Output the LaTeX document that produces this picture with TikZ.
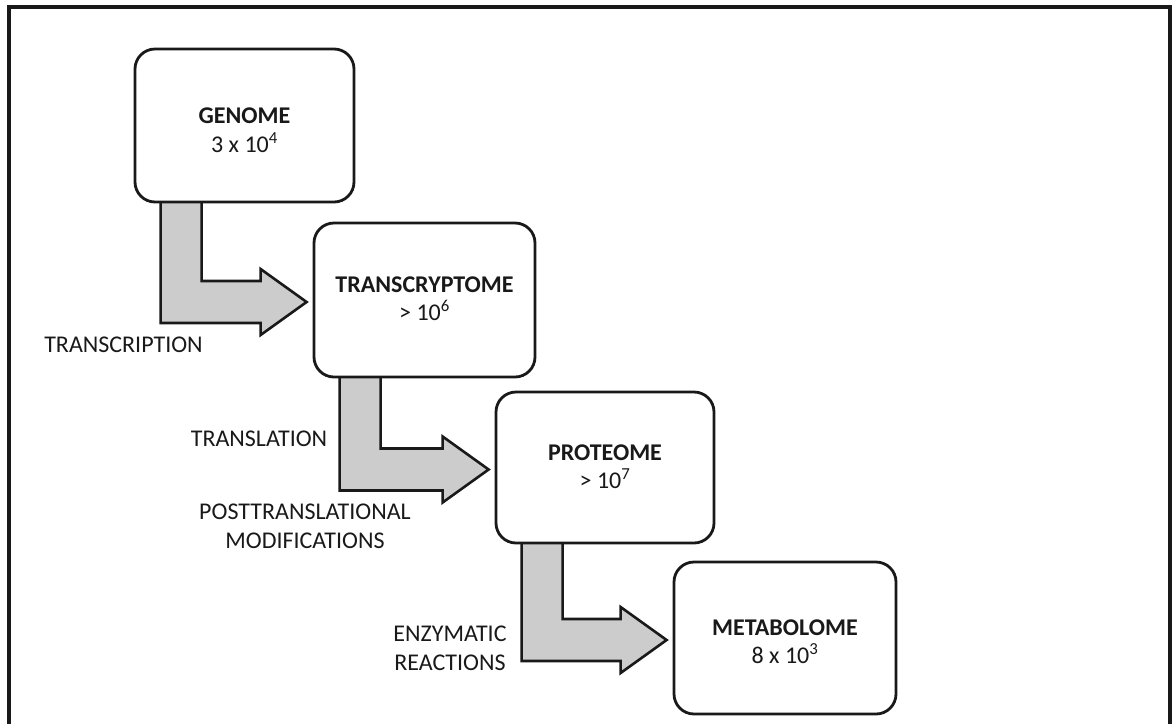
\documentclass[tikz,border=0pt]{standalone}
\usepackage{fontspec}
\setmainfont{Carlito}
\usetikzlibrary{calc,backgrounds}
\definecolor{shaftgray}{RGB}{204,204,204}
\definecolor{inkgray}{RGB}{25,25,25}
% bent block arrow from the bottom of one stage to the left side of the next
\newcommand\bentflow[2]{%
  \path[flow] let \p1=(#1.south west), \p2=(#2.west) in
    (\x1+27pt,\y1+2pt) -- (\x1+27pt,\y2-23pt) -- (\x2-52pt,\y2-23pt)
    -- (\x2-52pt,\y2-35pt) -- (\x2-6pt,\y2-2pt) -- (\x2-52pt,\y2+31pt)
    -- (\x2-52pt,\y2+19pt) -- (\x1+68pt,\y2+19pt) -- (\x1+68pt,\y1+2pt) -- cycle;}
% two-line stage caption, dropped by #1 inside its box
\newcommand\stagetext[3]{%
  \raisebox{-#1}[\height][\depth]{\begin{tabular}{@{}c@{}}#2\\#3\end{tabular}}}
\begin{document}
\begin{tikzpicture}[x=1pt,y=-1pt,
  stage/.style={draw=inkgray, line width=2.8pt, rounded corners=20pt, fill=white,
    align=center, font=\fontsize{24}{28}\selectfont, inner sep=0pt, text=inkgray},
  steplabel/.style={align=center, font=\fontsize{24}{29}\selectfont, inner sep=0pt, text=inkgray},
  flow/.style={fill=shaftgray, draw=inkgray, line width=2.6pt, line join=miter}]
\useasboundingbox (0,0) rectangle (1172,724);
% outer frame, open at the bottom edge
\draw[line width=3.5pt, inkgray] (9,724) -- (9,7) -- (1170,7) -- (1170,724);

% stages
\node[stage, minimum width=219pt, minimum height=153pt] (genome) at (244.5,125.5)
  {\stagetext{7pt}{\textbf{GENOME}}{3 x 10\textsuperscript{4}}};
\node[stage, minimum width=221pt, minimum height=154pt] (transc) at (424.5,300)
  {\stagetext{1pt}{\textbf{TRANSCRYPTOME}}{{>} 10\textsuperscript{6}}};
\node[stage, minimum width=218pt, minimum height=151pt] (prot) at (605,467.5)
  {\stagetext{1pt}{\textbf{PROTEOME}}{{>} 10\textsuperscript{7}}};
\node[stage, minimum width=222pt, minimum height=152pt] (metab) at (785,638)
  {\stagetext{6pt}{\textbf{METABOLOME}}{8 x 10\textsuperscript{3}}};

% flows between stages, kept behind the stage boxes
\begin{scope}[on background layer]
  \bentflow{genome}{transc}
  \bentflow{transc}{prot}
  \bentflow{prot}{metab}
\end{scope}

% process labels
\node[steplabel] (lab1) at (123.5,345) {TRANSCRIPTION};
\node[steplabel] (lab2) at (259,439) {TRANSLATION};
\node[steplabel] (lab3) at (305,526) {POSTTRANSLATIONAL\\MODIFICATIONS};
\node[steplabel] (lab4) at (450,648) {ENZYMATIC\\REACTIONS};
\end{tikzpicture}
\end{document}
